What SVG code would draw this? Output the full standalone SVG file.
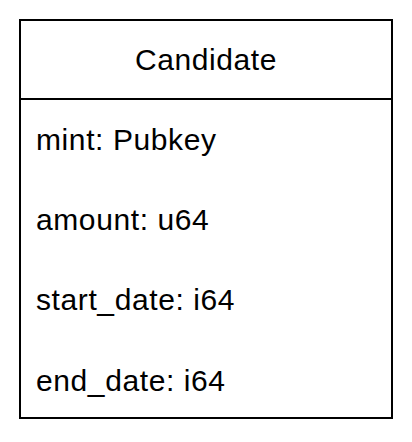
<svg xmlns="http://www.w3.org/2000/svg" width="412" height="442" viewBox="0 0 412 442">
<style>
.box{fill:#fff;stroke:#000;stroke-width:2}
.t{font-family:"Liberation Sans",Arial,sans-serif;font-size:30px;letter-spacing:0.6px;fill:#000}
</style>
<rect width="412" height="442" fill="#fff"/>
<g id="candidate">
<rect class="box" x="20" y="20" width="372" height="398"/>
<line x1="20" y1="99" x2="392" y2="99" stroke="#000" stroke-width="2"/>
<text class="t" x="206" y="70" text-anchor="middle">Candidate</text>
<text class="t" x="36" y="150">mint: Pubkey</text>
<text class="t" x="36" y="230">amount: u64</text>
<text class="t" x="36" y="310">start_date: i64</text>
<text class="t" x="36" y="391">end_date: i64</text>
</g>
<g id="connectors"/>
</svg>
